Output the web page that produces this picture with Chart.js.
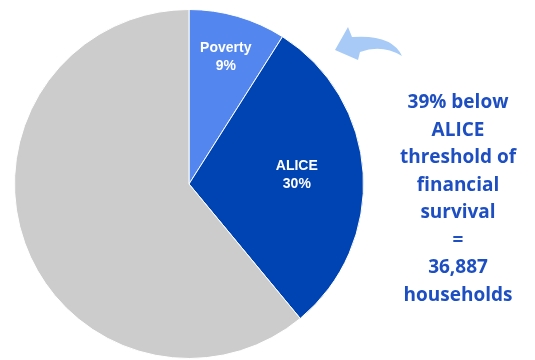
<!DOCTYPE html>
<html>
<head>
<meta charset="utf-8">
<script src="https://cdn.jsdelivr.net/npm/chart.js@4/dist/chart.umd.min.js"></script>
<style>
  html, body { margin: 0; padding: 0; background: #fff; }
  #wrap { position: relative; width: 535px; height: 360px; overflow: hidden; }
  #c { position: absolute; left: 0; top: 0; }
  #note { position: absolute; left: 383px; top: 88px; width: 150px; text-align: center;
          font-family: "Open Sans", sans-serif; font-weight: 700; font-size: 19px; line-height: 27.5px; color: #1e4fc2; }
  #arrow { position: absolute; left: 0; top: 0; }
</style>
</head>
<body>
<div id="wrap">
  <canvas id="c" width="535" height="360"></canvas>
  <svg id="arrow" width="535" height="360">
    <path d="M348 27 L335 50 L358 60 L360 52 Q382 44 402 56 Q392 34 352 37 Z" fill="#a7cbf6"/>
  </svg>
  <div id="note">39% below<br>ALICE<br>threshold of<br>financial<br>survival<br>=<br>36,887<br>households</div>
</div>
<script>
const categories = ["Poverty", "ALICE", "Above ALICE"];
const values = [9, 30, 61];
const valueLabels = ["9%", "30%", ""];
const colors = ["#5386ee", "#0044b4", "#cccccc"];

const labelPlugin = {
  id: 'sliceLabels',
  afterDatasetsDraw(chart) {
    const ctx = chart.ctx;
    const meta = chart.getDatasetMeta(0);
    const fracs = [0.755, 0.62, 0];
    meta.data.forEach((arc, i) => {
      if (!valueLabels[i]) return;
      const p = arc.getProps(['x', 'y', 'startAngle', 'endAngle', 'outerRadius'], true);
      let mid = (p.startAngle + p.endAngle) / 2;
      if (i === 1) mid -= 0.02;
      const r = p.outerRadius * fracs[i];
      const x = p.x + Math.cos(mid) * r;
      const y = p.y + Math.sin(mid) * r;
      ctx.save();
      ctx.fillStyle = '#ffffff';
      ctx.font = 'bold 14px "Liberation Sans", Arial, sans-serif';
      ctx.textAlign = 'center';
      ctx.textBaseline = 'middle';
      ctx.fillText(categories[i], x, y - 9);
      ctx.fillText(valueLabels[i], x, y + 9);
      ctx.restore();
    });
  }
};

new Chart(document.getElementById('c'), {
  type: 'pie',
  data: {
    labels: categories,
    datasets: [{
      data: values,
      backgroundColor: colors,
      borderColor: '#ffffff',
      borderWidth: 1
    }]
  },
  options: {
    responsive: false,
    animation: false,
    layout: { padding: { left: 14, right: 171, top: 9, bottom: 1 } },
    plugins: { legend: { display: false }, tooltip: { enabled: false } }
  },
  plugins: [labelPlugin]
});
</script>
</body>
</html>
